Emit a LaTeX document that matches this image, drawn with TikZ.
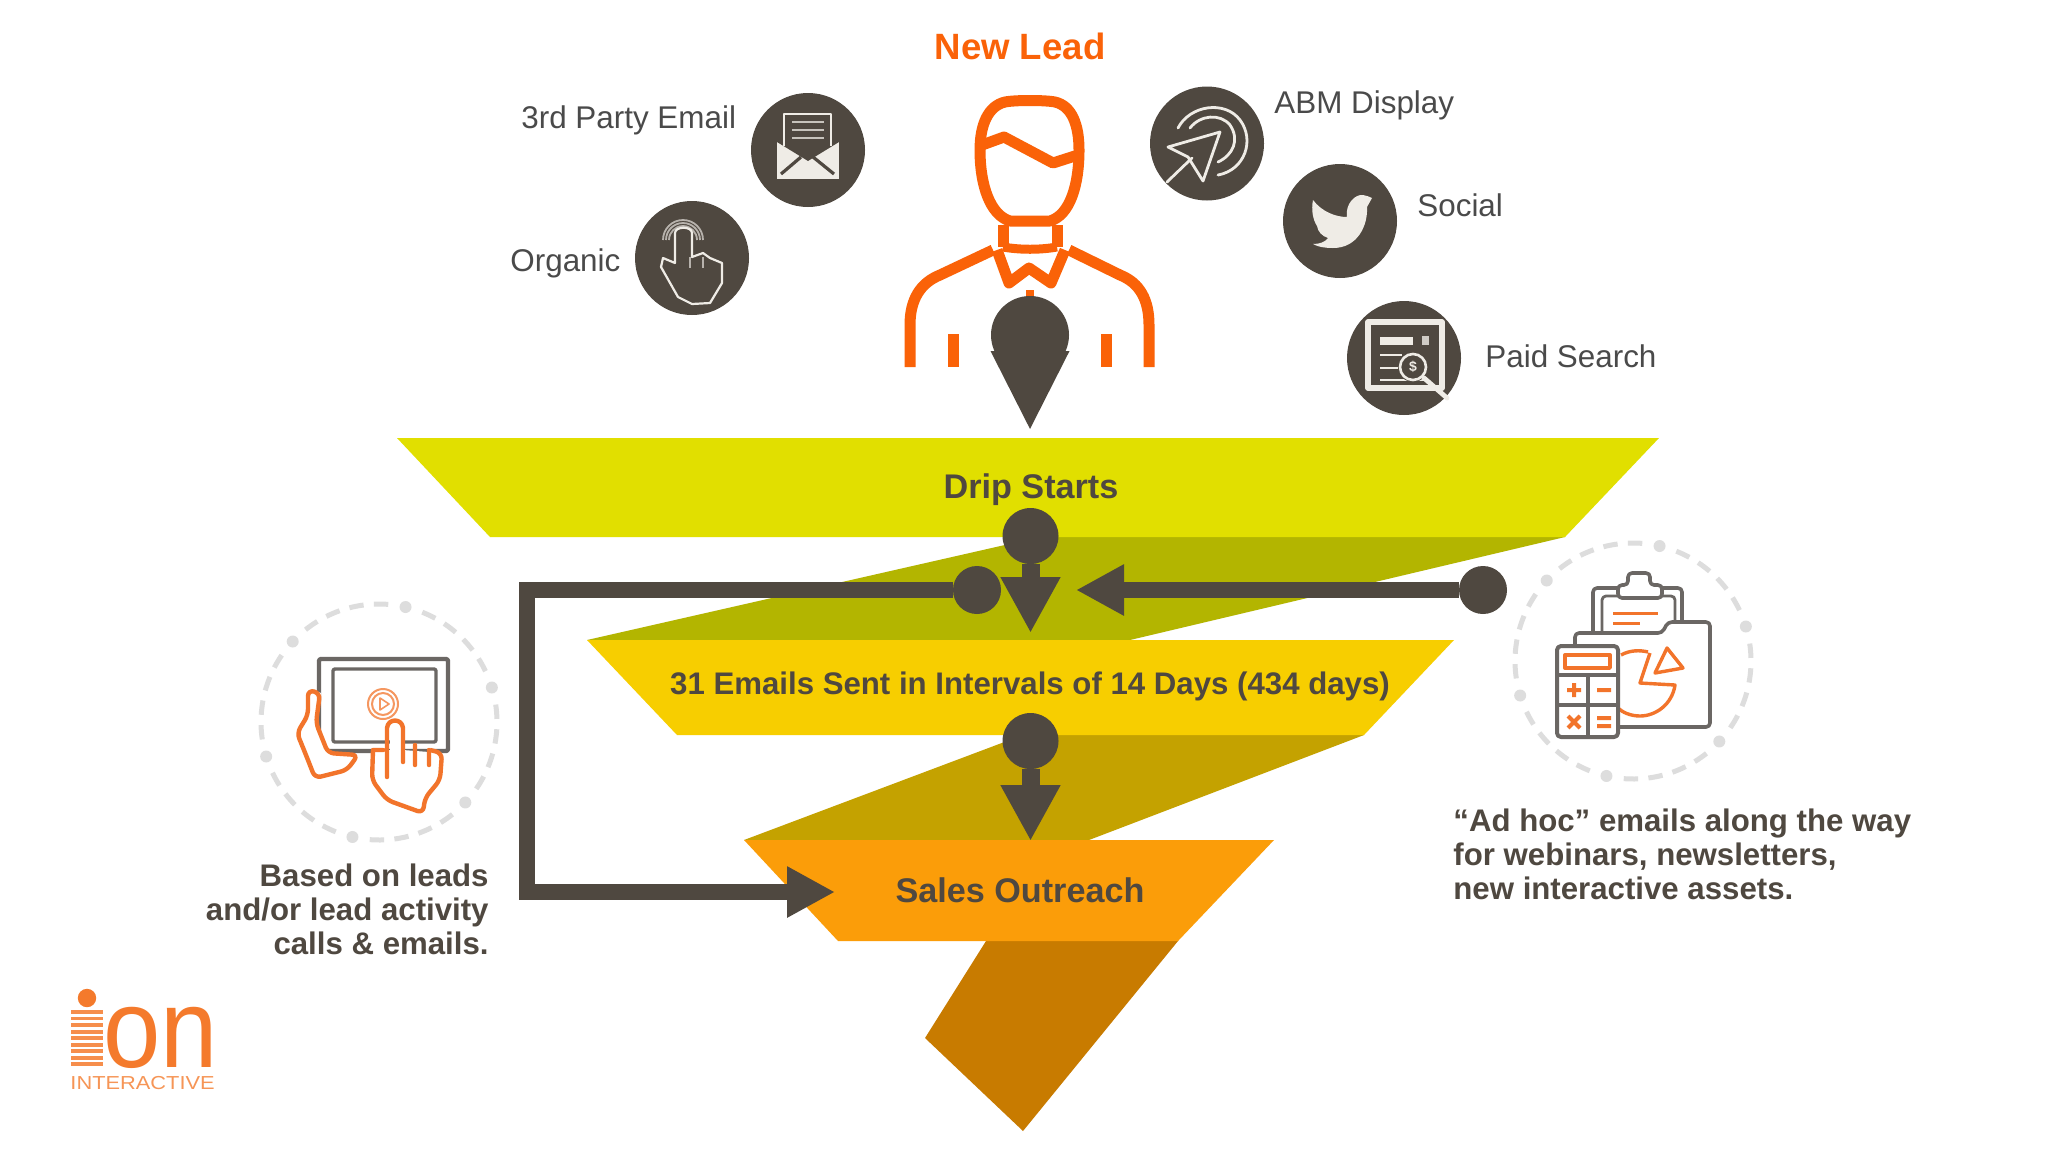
\documentclass[tikz,border=0pt]{standalone}
\usepackage{fontspec}
\setmainfont{Liberation Sans}
\usetikzlibrary{arrows.meta}
\definecolor{ink}{HTML}{4F4840}
\definecolor{txt}{HTML}{4A4A4A}
\definecolor{manor}{HTML}{FA6208}
\definecolor{iconl}{HTML}{EFECE6}
\definecolor{lime}{HTML}{E1DF00}
\definecolor{limed}{HTML}{B3B500}
\definecolor{yell}{HTML}{F7CE00}
\definecolor{yelld}{HTML}{C4A200}
\definecolor{oran}{HTML}{FB9D09}
\definecolor{orand}{HTML}{C87B00}
\definecolor{ringg}{HTML}{DDDDDD}
\definecolor{icong}{HTML}{6B6764}
\definecolor{icono}{HTML}{F2742B}
\definecolor{logoo}{HTML}{F47A2C}
\newcommand{\dashring}[1]{%
  \foreach \k in {0,...,5}{%
    \pgfmathsetmacro\ang{77+60*\k}%
    \fill[ringg] (#1) ++(\ang:59pt) circle[radius=3pt];
    \foreach \j in {1,...,4}{%
      \pgfmathsetmacro\st{\ang+12*\j-3.5}%
      \draw[ringg,line width=2.5pt] (#1) ++(\st:59pt) arc[start angle=\st,delta angle=7,radius=59pt];
    }
  }%
}
\tikzset{
  disc/.style={circle,fill=ink,minimum size=57pt,inner sep=0pt,outer sep=0pt},
  dotA/.style={circle,fill=ink,minimum size=#1,inner sep=0pt,outer sep=0pt},
  flow/.style={draw=ink,line width=#1,line join=miter},
  headA/.style={-{Triangle[length=#1,width=#1,sep=0pt]}},
  lab/.style={anchor=base west,inner sep=0pt,text=txt,font=\fontsize{15.7}{18}\selectfont},
  stagebold/.style={anchor=base,inner sep=0pt,text=ink,font=\bfseries\fontsize{17.1}{20}\selectfont},
  note/.style={inner sep=0pt,text=ink,font=\bfseries\fontsize{15.6}{17}\selectfont},
  manline/.style={draw=manor,line width=5.5pt,line join=round},
  iconline/.style={draw=iconl,line width=1.5pt,line join=round,line cap=round},
  gl/.style={draw=icong,line width=1.8pt,line join=round,rounded corners=2pt},
  ol/.style={draw=icono,line width=1.7pt,line join=round},
}
\begin{document}
\begin{tikzpicture}[x=0.5pt,y=-0.5pt]
\useasboundingbox (0,0) rectangle (2048,1152);
\fill[white] (0,0) rectangle (2048,1152);
% funnel bands
\fill[limed] (1040,537) -- (1565,537) -- (1130,640) -- (587,640) -- cycle;
\fill[yelld] (1023,735) -- (1364,735) -- (1089,840) -- (744,840) -- cycle;
\fill[orand] (986,941) -- (1178,941) -- (1023,1131) -- (925,1038) -- cycle;
\fill[lime] (397,438) -- (1659,438) -- (1565,537) -- (490,537) -- cycle;
\fill[yell] (587,640) -- (1454,640) -- (1364,735) -- (677,735) -- cycle;
\fill[oran] (744,840) -- (1274,840) -- (1178,941) -- (838,941) -- cycle;
% man
\draw[manline] (1005,102) .. controls (1015,100) and (1045,100) .. (1055,102) .. controls (1072,106) and (1079,125) .. (1079,150)
  .. controls (1079,185) and (1070,215) .. (1050,221) -- (1010,221)
  .. controls (990,215) and (980,185) .. (980,150) .. controls (980,125) and (988,106) .. (1005,102) -- cycle;
\draw[manline] (982,145) -- (1004,137) -- (1053,163) -- (1078,155);
\draw[manline] (1003,225) -- (1003,247) (1057,225) -- (1057,247);
\draw[manline,line width=4.5pt] (1003,247) .. controls (1020,250) and (1040,250) .. (1057,247);
\draw[manline] (997,250) -- (1009,283) -- (1029,268) -- (1051,283) -- (1065,250);
\draw[manline] (993,250) -- (940,275) .. controls (920,283) and (910,300) .. (910,325) -- (910,367);
\draw[manline] (1069,250) -- (1120,275) .. controls (1140,283) and (1149,300) .. (1149,325) -- (1149,367);
\draw[manline] (953.5,334) -- (953.5,367) (1106,334) -- (1106,367);
\draw[manline,line width=4pt] (1030,290) -- (1030,300);
% icon discs
\node[disc] (email) at (808,150) {};
\node[disc] (organic) at (692,258) {};
\node[disc] (abm) at (1207,143.5) {};
\node[disc] (social) at (1340,221) {};
\node[disc] (paid) at (1404,358) {};
% email icon
\fill[iconl] (777,142) -- (839,142) -- (839,179) -- (777,179) -- cycle;
\fill[ink] (777,142) -- (786,142) -- (786,116) -- (830,116) -- (830,142) -- (839,142) -- (808,161) -- cycle;
\draw[iconline,line width=1.3pt,line cap=butt] (784,146) -- (784,114) -- (831,114) -- (831,146);
\draw[iconl!75!ink,line width=1.2pt] (792,122) -- (824,122) (792,130) -- (824,130) (792,138) -- (824,138);
\draw[ink,line width=1.6pt] (781,174) -- (801,157) (834,174) -- (813,157);
% organic icon
\draw[iconl!65!ink,line width=.9pt] (669,240) arc[start angle=180,end angle=0,radius=7pt]
  (666,240) arc[start angle=180,end angle=0,radius=8.5pt]
  (663,240) arc[start angle=180,end angle=0,radius=10pt];
\draw[iconline,line width=1.1pt] (675,263) -- (675,233) .. controls (675,226) and (692,226) .. (692,233) -- (692,257)
  -- (703,253) -- (710,258) -- (722,263) -- (722,283) -- (710,303) -- (692,304) -- (678,297) -- (661,267) -- (663,258) -- cycle;
\draw[iconl!65!ink,line width=1pt] (703,257) -- (703,268) (690,257) -- (690,268);
% abm icon
\draw[iconline,line width=1.4pt] (1220,132) -- (1168,147) -- (1188,157) -- (1203,181) -- cycle;
\draw[iconline,line width=1.4pt] (1192,158) -- (1167,182);
\draw[iconline,line width=1.4pt] (1178,128) .. controls (1190,105) and (1225,100) .. (1240,120) .. controls (1255,140) and (1245,170) .. (1218,175);
\draw[iconline,line width=1.4pt] (1190,128) .. controls (1200,115) and (1220,113) .. (1230,125) .. controls (1240,140) and (1233,155) .. (1218,162);
% twitter icon
\fill[iconl] (1313,200) .. controls (1322,212) and (1336,217) .. (1347,217)
  .. controls (1345,204) and (1355,194) .. (1363,195) .. controls (1366,195) and (1369,197) .. (1372,198)
  -- (1367,207) .. controls (1368,225) and (1358,248) .. (1333,248) .. controls (1325,248) and (1318,247) .. (1313,244)
  .. controls (1320,244) and (1325,242) .. (1328,238) .. controls (1322,236) and (1318,232) .. (1317,226)
  .. controls (1313,220) and (1311,210) .. (1313,200) -- cycle;
% paid search icon
\draw[iconline,line cap=butt,line width=2.6pt] (1368,322) rectangle (1442,388);
\fill[iconl] (1380,337) rectangle (1413,345);
\fill[iconl!80!ink] (1422,336) rectangle (1429,345);
\draw[iconline,line cap=butt,line width=1.4pt] (1380,355) -- (1402,355) (1380,368) -- (1398,368) (1380,380) -- (1428,380);
\fill[ink] (1413,367) circle[radius=7.5pt];
\draw[iconline,line width=1.3pt] (1413,367) circle[radius=6.5pt];
\node[inner sep=0pt,text=iconl,font=\bfseries\fontsize{7}{8}\selectfont] (dollar) at (1413,367) {\$};
\draw[iconline,line width=2.4pt] (1424,378) -- (1447,398);
% funnel connectors
\node[dotA=39pt] (d0) at (1030,335) {};
\coordinate (t0) at (1030,429);
\draw[flow=2pt,headA=39pt] (d0) -- (t0);
\node[dotA=28pt] (d1) at (1030.5,536) {};
\coordinate (t1) at (1030.5,633);
\draw[flow=9pt,headA=28pt] (d1) -- (t1);
\node[dotA=28pt] (d2) at (1030.5,741) {};
\coordinate (t2) at (1030.5,841);
\draw[flow=9pt,headA=28pt] (d2) -- (t2);
\node[dotA=24pt] (d3) at (977,590) {};
\coordinate (t3) at (835,892);
\draw[flow=8pt,headA=24pt] (d3) -- (527,590) -- (527,892) -- (t3);
\node[dotA=24pt] (d4) at (1483,590) {};
\coordinate (t4) at (1076,590);
\draw[flow=8pt,headA=24pt] (d4) -- (t4);
% rings
\coordinate (ringL) at (379,722);
\coordinate (ringR) at (1633,661);
\dashring{ringL}
\dashring{ringR}
% tablet icon
\draw[gl,rounded corners=1pt,line width=2.2pt] (319,659) rectangle (448,751);
\draw[gl,rounded corners=1pt,line width=1.7pt] (333,669) rectangle (436,742);
\draw[icono!75!white,line width=1pt] (383,704) circle[radius=7.5pt] (383,704) circle[radius=5.5pt];
\draw[icono!75!white,line width=.8pt,line join=round] (380,698) -- (389,704) -- (380,710) -- cycle;
\fill[white] (308,688) -- (321,693) -- (316,723) -- (328,753) -- (358,755) -- (347,770) -- (315,778) -- (297,733) -- cycle;
\draw[ol,line width=2.2pt,rounded corners=3pt] (308,690) -- (320,693) -- (316,723) -- (328,753) -- (358,755) -- (347,770) -- (315,778) -- (306,755) -- (297,733) -- (308,715) -- cycle;
\fill[white] (373,750) -- (390,750) -- (390,728) -- (403,728) -- (403,750) -- (442,753) -- (440,780) -- (425,798) -- (423,813) -- (387,800) -- (372,780) -- cycle;
\draw[ol,line width=2.2pt,rounded corners=3pt] (373,750) -- (372,780) -- (387,800) -- (423,813) -- (425,798) -- (440,780) -- (442,753) -- (430,750);
\draw[ol,line width=2.2pt,line cap=round] (373,750) -- (383,750) (387,777) -- (387,728) .. controls (388,718) and (402,718) .. (403,728) -- (403,762)
  (415,745) -- (415,765) (429,750) -- (429,765);
% clipboard icon
\draw[gl] (1593,633) -- (1593,588) -- (1682,588) -- (1682,622);
\draw[gl,line width=1.4pt] (1602,633) -- (1602,596) -- (1675,596) -- (1675,622);
\fill[white] (1618,583) rectangle (1662,598);
\draw[gl] (1618,598) -- (1618,585) -- (1628,585) -- (1628,573) -- (1650,573) -- (1650,585) -- (1662,585) -- (1662,598) -- cycle;
\draw[ol,line width=1.5pt] (1613,613) -- (1658,613) (1613,623) -- (1640,623);
\draw[gl] (1575,646) -- (1575,633) -- (1662,633) -- (1668,622) -- (1710,622) -- (1710,727) -- (1618,727);
\draw[ol] (1650,653) -- (1640,683) -- (1675,685) .. controls (1672,705) and (1655,716) .. (1640,716) .. controls (1630,716) and (1622,712) .. (1618,708);
\draw[ol] (1621,655) .. controls (1630,650) and (1640,650) .. (1648,652);
\draw[ol] (1667,648) -- (1683,668) -- (1655,673) -- cycle;
\fill[white] (1557,646) rectangle (1618,737);
\draw[gl,line width=2pt] (1557,646) rectangle (1618,737);
\draw[gl,line width=1.8pt,rounded corners=0pt] (1557,675) -- (1618,675) (1557,705) -- (1618,705) (1588,675) -- (1588,737);
\draw[ol] (1565,655) rectangle (1610,668);
\draw[ol,line width=2pt] (1567,690) -- (1581,690) (1574,683) -- (1574,697) (1597,690) -- (1611,690)
  (1568,716) -- (1580,728) (1580,716) -- (1568,728) (1597,718) -- (1611,718) (1597,726) -- (1611,726);
% logo
\fill[logoo] (87,998) circle[radius=4.6pt];
\foreach \s in {0,...,8}{\fill[logoo!85!white] (71,{1010+\s*6.55}) rectangle (103,{1010+\s*6.55+3.9});}
\node[anchor=base west,inner sep=0pt,text=logoo,font=\fontsize{56}{60}\selectfont,xscale=.92] (logoOn) at (103,1067) {on};
\node[anchor=base west,inner sep=0pt,text=logoo!80!white,font=\fontsize{9.4}{11}\selectfont,xscale=1.16] (logoTxt) at (70,1089) {INTERACTIVE};
% labels
\node[anchor=base,inner sep=0pt,text=manor,font=\bfseries\fontsize{18.3}{22}\selectfont] (newlead) at (1020,59) {New Lead};
\node[lab] (l3rd) at (521,128) {3rd Party Email};
\node[lab] (lorg) at (510,271) {Organic};
\node[lab] (labm) at (1274,113) {ABM Display};
\node[lab] (lsoc) at (1417,216) {Social};
\node[lab] (lpaid) at (1485,367) {Paid Search};
\node[stagebold] (drip) at (1031,498) {Drip Starts};
\node[stagebold,font=\bfseries\fontsize{15.6}{20}\selectfont] (emails) at (1030,694) {31 Emails Sent in Intervals of 14 Days (434 days)};
\node[stagebold] (sales) at (1020,902) {Sales Outreach};
\node[note,anchor=north east,align=right] (noteL) at (489,863) {Based on leads\\and/or lead activity\\calls \& emails.};
\node[note,anchor=north west,align=left] (noteR) at (1453,808) {“Ad hoc” emails along the way\\for webinars, newsletters,\\new interactive assets.};
\end{tikzpicture}
\end{document}
